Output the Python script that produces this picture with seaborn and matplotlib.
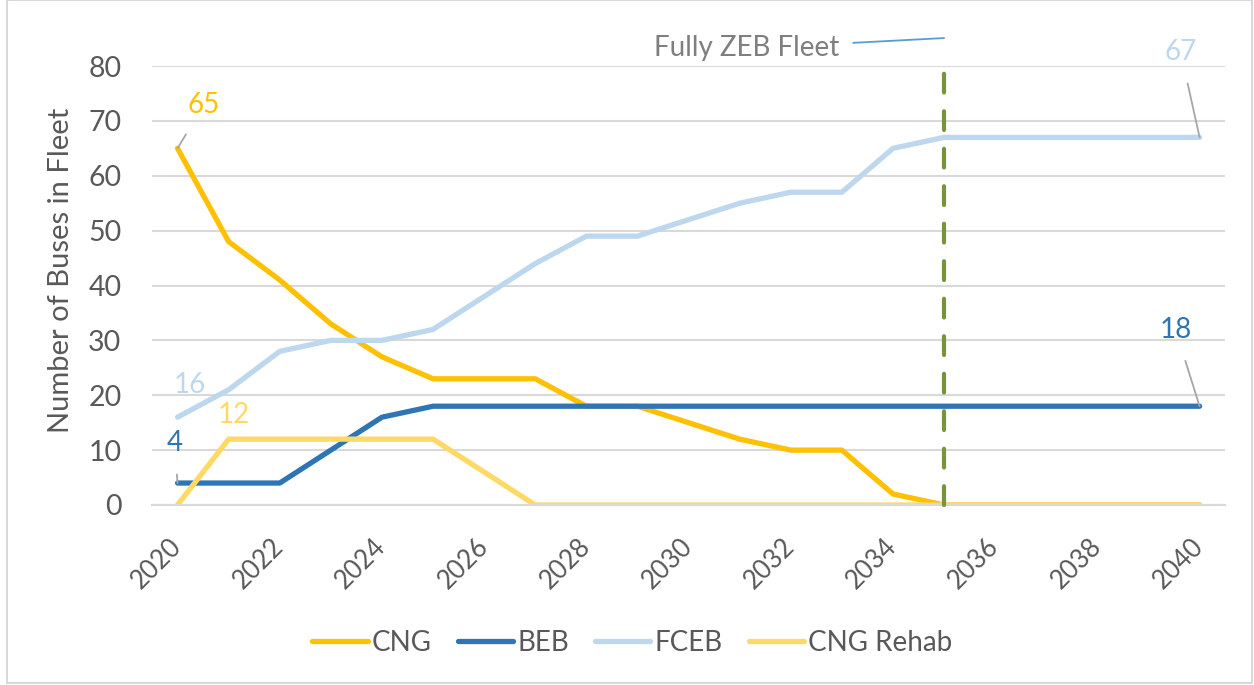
import matplotlib
matplotlib.use("Agg")
import matplotlib.pyplot as plt
import matplotlib.patches as patches
import seaborn as sns
import pandas as pd
import numpy as np

years = list(range(2020, 2041))
cng = [65, 48, 41, 33, 27, 23, 23, 23, 18, 18, 15, 12, 10, 10, 2, 0, 0, 0, 0, 0, 0]
beb = [4, 4, 4, 10, 16, 18, 18, 18, 18, 18, 18, 18, 18, 18, 18, 18, 18, 18, 18, 18, 18]
fceb = [16, 21, 28, 30, 30, 32, 38, 44, 49, 49, 52, 55, 57, 57, 65, 67, 67, 67, 67, 67, 67]
cng_rehab = [0, 12, 12, 12, 12, 12, 6, 0, 0, 0, 0, 0, 0, 0, 0, 0, 0, 0, 0, 0, 0]
series = ["CNG", "BEB", "FCEB", "CNG Rehab"]
colors = ["#FFC000", "#2E75B6", "#BDD7EE", "#FFD966"]
zeb_year = 2035

df = pd.DataFrame({
    "year": years * 4,
    "buses": cng + beb + fceb + cng_rehab,
    "series": np.repeat(series, len(years)),
})

sns.set_style("white")
plt.rcParams["font.family"] = ["Lato", "DejaVu Sans"]
txt = "#595959"

fig = plt.figure(figsize=(12.54, 6.85), dpi=100)
ax = fig.add_axes([0.1212, 0.2628, 0.977 - 0.1212, 0.9036 - 0.2628])

sns.lineplot(data=df, x="year", y="buses", hue="series", hue_order=series,
             palette=colors, linewidth=3.8, ax=ax, legend=False)

ax.set_xlim(2019.55, 2040.5)
ax.set_ylim(0, 80)
ax.set_yticks(range(0, 81, 10))
ax.yaxis.grid(True, color="#D9D9D9", linewidth=1.5)
ax.set_axisbelow(True)
for s in ["top", "right", "left"]:
    ax.spines[s].set_visible(False)
ax.spines["bottom"].set_color("#D9D9D9")
ax.spines["bottom"].set_linewidth(1.5)

ax.set_xticks(range(2020, 2041, 2))
ax.set_xticklabels([str(y) for y in range(2020, 2041, 2)], rotation=45,
                   ha="right", va="center", rotation_mode="anchor",
                   fontsize=18.5, color=txt)
ax.tick_params(axis="x", length=0, pad=27)
ax.set_xticks(np.arange(2019.5, 2041, 1), minor=True)
ax.tick_params(axis="x", which="minor", length=7, width=1.5, color="#D9D9D9", direction="out")
ax.tick_params(axis="y", length=0, labelsize=20.5, labelcolor=txt, pad=22)
ax.set_xlabel("")
ax.set_ylabel("Number of Buses in Fleet", fontsize=21, color=txt)
ax.yaxis.set_label_coords(-0.073, 0.535)

# Fully ZEB marker
ax.plot([zeb_year, zeb_year], [0, 81.6], color="#77933C", linewidth=3,
        linestyle=(0, (4.5, 4.5)), clip_on=False,
        dash_capstyle="round", zorder=5)
ax.annotate("Fully ZEB Fleet", xy=(zeb_year, 85.1), xytext=(2032.94, 83.2),
            ha="right", va="center", fontsize=20, color="#7F7F7F", annotation_clip=False,
            arrowprops=dict(arrowstyle="-", color="#5B9BD5", lw=1.3,
                            shrinkA=8, shrinkB=0))

# data labels
def lab(text, xy, xyt, color, leader=True):
    ax.annotate(text, xy=xy, xytext=xyt, ha="center", va="center", fontsize=20,
                color=color, annotation_clip=False,
                arrowprops=dict(arrowstyle="-", color="#A6A6A6", lw=1.3,
                                shrinkA=11, shrinkB=0) if leader else None)

lab("65", (2020, cng[0]), (2020.51, 72.9), colors[0])
lab("16", (2020, fceb[0]), (2020.25, 21.9), colors[2], leader=False)
lab("12", (2021, cng_rehab[1]), (2021.1, 16.4), colors[3], leader=False)
lab("4", (2020, beb[0]), (2019.94, 11.3), colors[1])
lab("67", (2040, fceb[-1]), (2039.63, 82.5), colors[2])
lab("18", (2040, beb[-1]), (2039.53, 31.9), colors[1])

handles = [plt.Line2D([], [], color=c, linewidth=3.8, solid_capstyle="round") for c in colors]
fig.legend(handles, series, loc="center left", bbox_to_anchor=(312 / 1254, 0.062), ncol=4,
           frameon=False, fontsize=20, labelcolor=txt, handlelength=2.0,
           handletextpad=0.15, columnspacing=0.93, borderpad=0, borderaxespad=0)

fig.patches.append(patches.Rectangle((7 / 1254, 2 / 685), 1 - 9 / 1254, 1 - 2 / 685,
                                     transform=fig.transFigure, fill=False,
                                     edgecolor="#D9D9D9", linewidth=1.5))

fig.savefig("out.png", dpi=100)
